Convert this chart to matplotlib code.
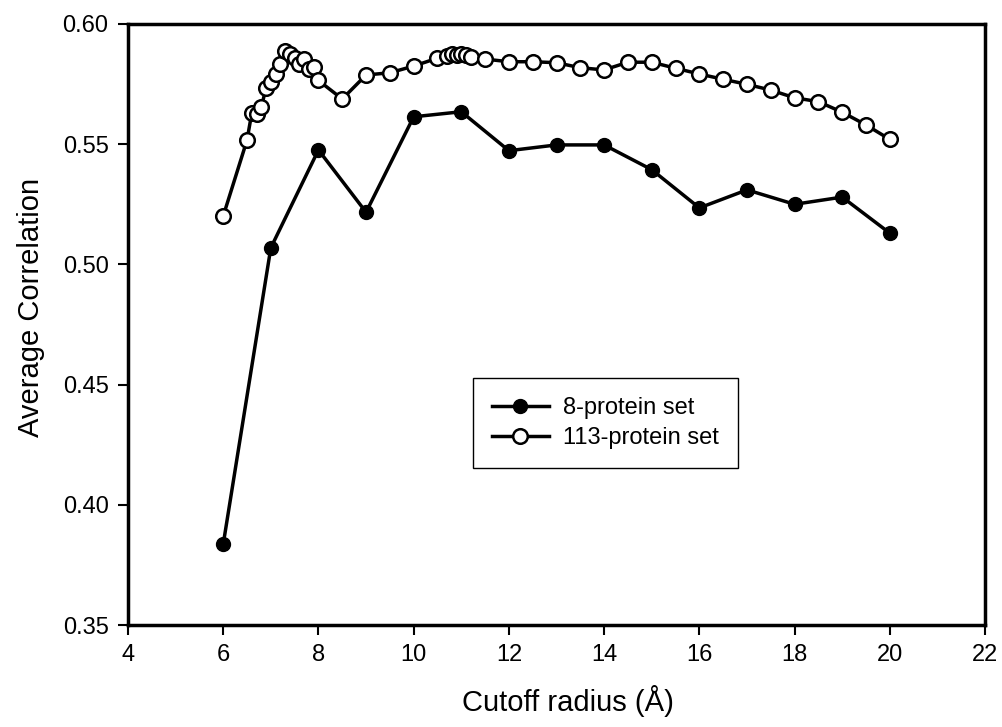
import numpy as np
import matplotlib
matplotlib.use("Agg")
import matplotlib.pyplot as plt

plt.rcParams['font.family'] = ['Liberation Sans', 'DejaVu Sans']

# 8-protein set (filled circles)
radius_8 = [6, 7, 8, 9, 10, 11, 12, 13, 14, 15, 16, 17, 18, 19, 20]
corr_8 = [0.3836, 0.5069, 0.5476, 0.5217, 0.5614, 0.5635, 0.5473, 0.5497,
          0.5497, 0.5394, 0.5235, 0.5310, 0.5250, 0.5280, 0.5130]

# 113-protein set (open circles)
radius_113 = [6.0, 6.5, 6.6, 6.7, 6.8, 6.9, 7.0, 7.1, 7.2, 7.3, 7.4, 7.5, 7.6,
              7.7, 7.8, 7.9, 8.0, 8.5, 9.0, 9.5, 10.0, 10.5, 10.7, 10.8, 10.9,
              11.0, 11.1, 11.2, 11.5, 12.0, 12.5, 13.0, 13.5, 14.0, 14.5, 15.0,
              15.5, 16.0, 16.5, 17.0, 17.5, 18.0, 18.5, 19.0, 19.5, 20.0]
corr_113 = [0.5201, 0.5517, 0.5630, 0.5626, 0.5654, 0.5734, 0.5758, 0.5790,
            0.5835, 0.5888, 0.5875, 0.5860, 0.5834, 0.5853, 0.5814, 0.5822,
            0.5765, 0.5688, 0.5788, 0.5797, 0.5825, 0.5858, 0.5865, 0.5876,
            0.5869, 0.5874, 0.5872, 0.5864, 0.5854, 0.5843, 0.5843, 0.5839,
            0.5818, 0.5809, 0.5841, 0.5841, 0.5816, 0.5792, 0.5770, 0.5749,
            0.5725, 0.5693, 0.5677, 0.5633, 0.5580, 0.5520]

fig = plt.figure(figsize=(10.03, 7.27), dpi=100)
ax = fig.add_axes([0.1276, 0.1403, 0.8545, 0.8267])

ax.plot(radius_8, corr_8, color='black', lw=2.5, marker='o', ms=10,
        mfc='black', mec='black', label='8-protein set', zorder=3)
ax.plot(radius_113, corr_113, color='black', lw=2.5, marker='o', ms=10.5,
        mfc='white', mec='black', mew=1.8, label='113-protein set', zorder=4)

ax.set_xlim(4, 22)
ax.set_ylim(0.35, 0.60)
ax.set_xticks(np.arange(4, 23, 2))
ax.set_yticks(np.arange(0.35, 0.601, 0.05))
ax.set_yticklabels([f"{v:.2f}" for v in np.arange(0.35, 0.601, 0.05)])

for sp in ax.spines.values():
    sp.set_linewidth(2.5)
ax.tick_params(direction='out', length=7, width=1.5, labelsize=17, pad=7)

ax.set_xlabel('Cutoff radius (Å)', fontsize=21)
ax.set_ylabel('Average Correlation', fontsize=21)
# label positions (pixels -> axes fraction)
ax.xaxis.set_label_coords(0.513, -0.100)
ax.yaxis.set_label_coords(-0.097, 0.528)

leg = ax.legend(loc='upper left', bbox_to_anchor=(0.4026, 0.411), fontsize=17,
                fancybox=False, framealpha=1, edgecolor='black',
                borderaxespad=0, handlelength=2.4, borderpad=0.8,
                labelspacing=0.35, handletextpad=0.6)
leg.get_frame().set_linewidth(1.0)

fig.savefig('out.png', dpi=100)
